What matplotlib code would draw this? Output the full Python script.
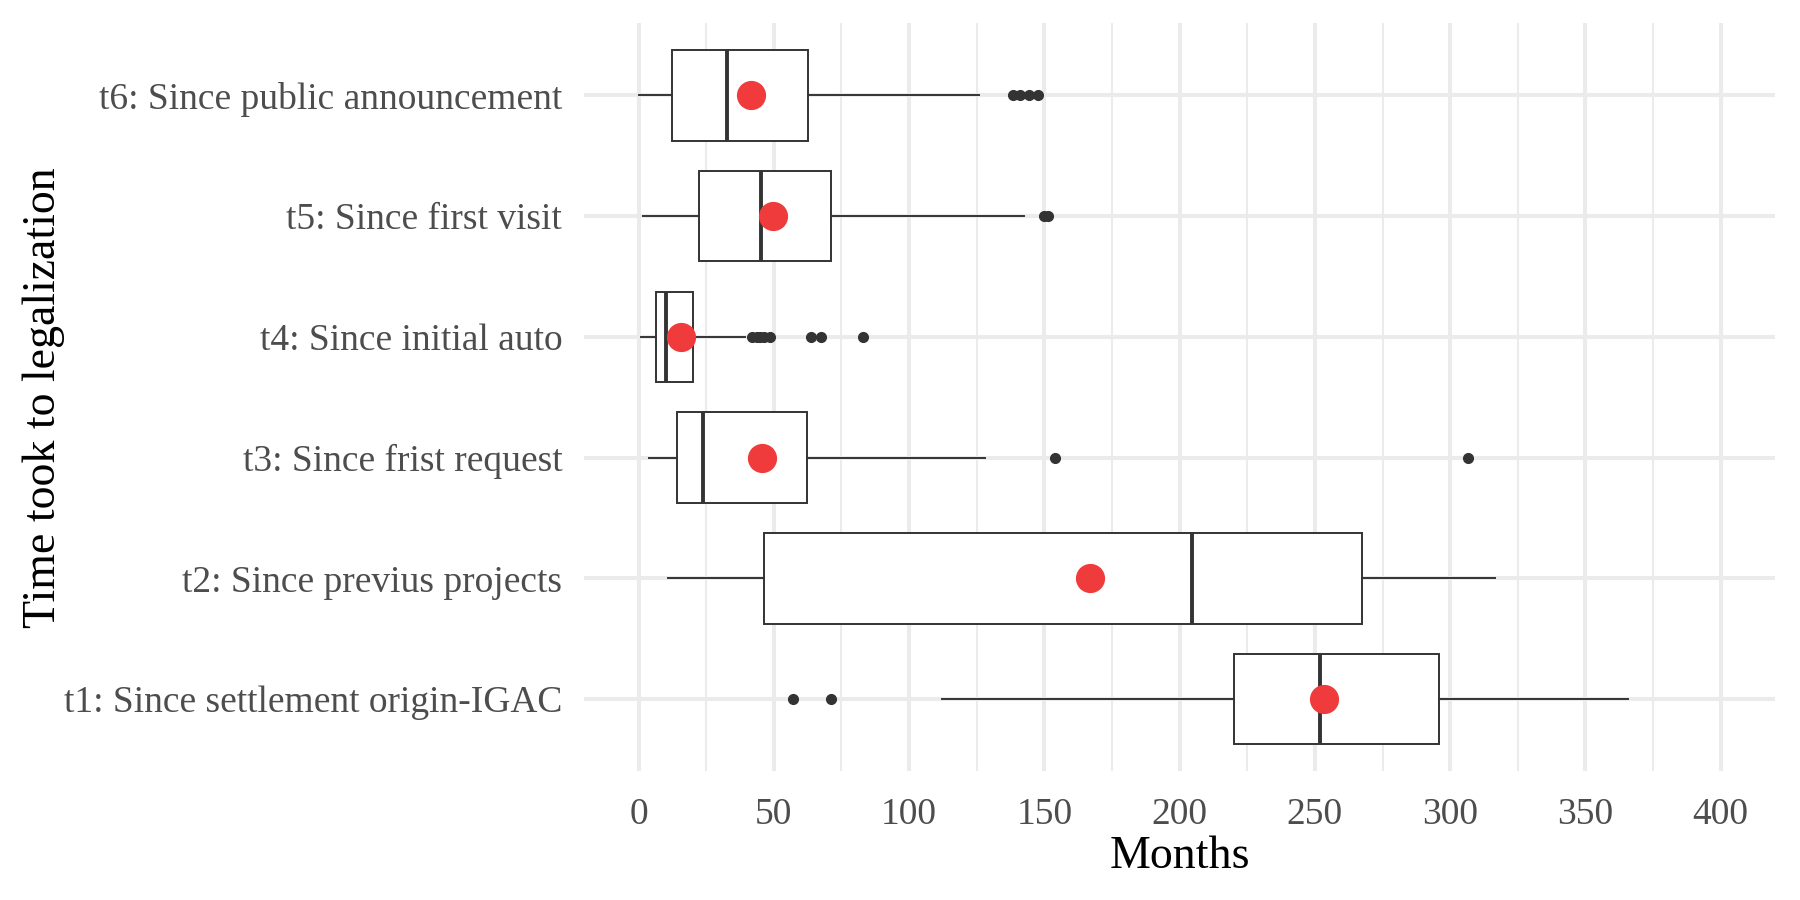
import matplotlib.pyplot as plt
from matplotlib.ticker import MultipleLocator

# Categorias (de abajo hacia arriba)
etiquetas = [
    "t1: Since settlement origin-IGAC",
    "t2: Since previus projects",
    "t3: Since frist request",
    "t4: Since initial auto",
    "t5: Since first visit",
    "t6: Since public announcement",
]

# Estadisticos (meses)
bigote_inf = [112, 10.7, 3.7, 0.8, 1.6, 0]
q1 = [220, 46.3, 14.1, 6.5, 22.4, 12.4]
mediana = [252, 204.4, 23.8, 10.3, 45.1, 32.6]
q3 = [295.7, 267.4, 62.4, 20.2, 71.3, 62.6]
bigote_sup = [365.8, 316.6, 127.9, 39.4, 142.5, 126]
media = [253.3, 166.8, 45.7, 15.8, 49.7, 41.5]
atipicos = [
    [57, 71.2],
    [],
    [153.8, 306.6],
    [41.9, 43.7, 45, 46.2, 48.7, 63.7, 67.5, 82.9],
    [150, 151.2],
    [138.4, 141.1, 144.3, 147.6],
]

plt.rcParams["font.family"] = ["Liberation Serif", "DejaVu Serif"]

fig = plt.figure(figsize=(18, 9), dpi=100)
ax = fig.add_axes([0.3247, 0.1428, 0.986 - 0.3247, 0.9744 - 0.1428])

stats = []
for i in range(len(etiquetas)):
    stats.append({
        "whislo": bigote_inf[i], "q1": q1[i], "med": mediana[i],
        "q3": q3[i], "whishi": bigote_sup[i], "mean": media[i],
        "fliers": atipicos[i],
    })

posiciones = list(range(1, len(etiquetas) + 1))
linea = "#333333"
ax.bxp(
    stats, positions=posiciones, vert=False, widths=0.75,
    showmeans=True, showcaps=False, patch_artist=True, zorder=3,
    boxprops=dict(facecolor="white", edgecolor=linea, linewidth=1.4),
    medianprops=dict(color=linea, linewidth=2.8),
    whiskerprops=dict(color=linea, linewidth=1.4),
    flierprops=dict(marker="o", markerfacecolor=linea, markeredgecolor=linea,
                    markersize=7, linestyle="none"),
    meanprops=dict(marker="o", markerfacecolor="#EF3B3B", markeredgecolor="#EF3B3B",
                   markersize=20),
)

ax.set_xlim(-20, 420)
ax.set_ylim(0.4, len(etiquetas) + 0.6)
ax.set_yticks(posiciones)
ax.set_yticklabels(etiquetas)
ax.xaxis.set_major_locator(MultipleLocator(50))
ax.xaxis.set_minor_locator(MultipleLocator(25))

# Estilo minimalista tipo ggplot
ax.grid(which="major", color="#EBEBEB", linewidth=2.9, zorder=0)
ax.grid(which="minor", axis="x", color="#EBEBEB", linewidth=1.45, zorder=0)
ax.set_axisbelow(True)
for s in ax.spines.values():
    s.set_visible(False)
ax.tick_params(which="both", length=0)
ax.tick_params(axis="both", labelsize=27, labelcolor="#4D4D4D")
ax.tick_params(axis="y", pad=16)
ax.tick_params(axis="x", pad=19)

ax.set_xlabel("Months", fontsize=33, color="black", labelpad=2)
ax.set_ylabel("Time took to legalization", fontsize=33, color="black")
ax.yaxis.label.set_va("center")
ax.yaxis.set_label_coords(-0.4545, 0.5)

fig.savefig("out.png", dpi=100)
